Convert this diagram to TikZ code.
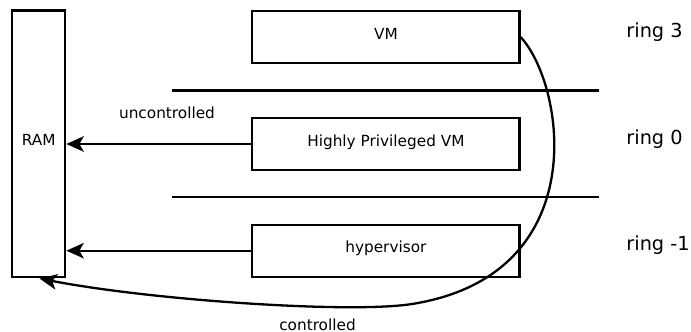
\documentclass[tikz,border=0pt]{standalone}
\usepackage{fontspec}
\setmainfont{DejaVu Sans}
\usetikzlibrary{arrows.meta}
\begin{document}
\begin{tikzpicture}[x=1pt, y=-1pt, line width=2.3pt,
  box/.style={draw, inner sep=0pt, text height=10pt, text depth=6pt,
    font=\fontsize{15.3}{18}\selectfont},
  layer/.style={box, minimum width=267.3pt, minimum height=52pt},
  ringlabel/.style={anchor=base west, inner sep=0pt,
    font=\fontsize{19.3}{23}\selectfont},
  flowlabel/.style={anchor=base, inner sep=0pt,
    font=\fontsize{15.3}{18}\selectfont},
  access/.style={-{Stealth[length=17.5pt, width=15.5pt, inset=4.5pt]}}]
  \useasboundingbox (0,0) rectangle (691,332);

  % memory and the three privilege layers
  \node[box, minimum width=53pt, minimum height=266.7pt] (ram) at (38.7,143.8) {RAM};
  \node[layer] (vm)  at (385.9,37.1)  {VM};
  \node[layer] (hpvm) at (385.9,144)  {Highly Privileged VM};
  \node[layer] (hyp) at (385.9,250.7) {hypervisor};

  % ring boundaries
  \coordinate (s1a) at (172,90.5);  \coordinate (s1b) at (599.3,90.5);
  \coordinate (s2a) at (172,197.2); \coordinate (s2b) at (599.3,197.2);
  \draw (s1a) -- (s1b);
  \draw (s2a) -- (s2b);

  % ring names
  \node[ringlabel] (r3) at (625.3,37.3)  {ring 3};
  \node[ringlabel] (r0) at (625.3,144)   {ring 0};
  \node[ringlabel] (rm) at (625.3,250.7) {ring -1};

  % direct memory access
  \draw[access] (hpvm.west) -- (ram.east |- hpvm.west);
  \draw[access] (hyp.west) -- (ram.east |- hyp.west);
  \node[flowlabel] (unc) at (167,118) {uncontrolled};

  % access from the VM, mediated below the hypervisor
  \coordinate (bend) at (412,304);
  \coordinate (tip) at (39.5,278.5);
  \draw[access] (vm.east) .. controls (565,85) and (595,275) .. (bend)
    .. controls (350,313.8) and (150,300) .. (tip);
  \node[flowlabel] (ctl) at (317.5,330) {controlled};
\end{tikzpicture}
\end{document}
